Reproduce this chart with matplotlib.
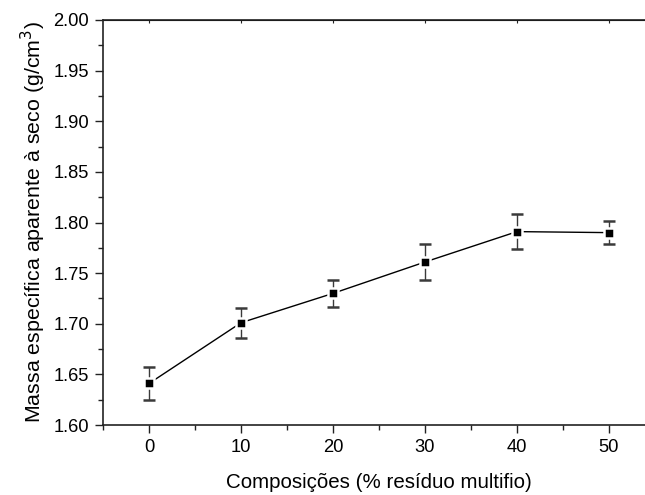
import matplotlib
matplotlib.use("Agg")
import matplotlib.pyplot as plt
from matplotlib.ticker import MultipleLocator, FormatStrFormatter

plt.rcParams['font.family'] = ['Liberation Sans', 'DejaVu Sans']

composicoes = [0, 10, 20, 30, 40, 50]
massa = [1.641, 1.701, 1.730, 1.761, 1.791, 1.790]
erro = [0.016, 0.015, 0.013, 0.018, 0.017, 0.011]

W, H = 645, 495
fig = plt.figure(figsize=(W/100, H/100), dpi=100)
# axes: left spine at x=103 (x=-5), 9.2 px per unit, top y=20, bottom y=425
ax = fig.add_axes([103/W, (H-425)/H, 552/W, 405/H])

ax.errorbar(composicoes, massa, yerr=erro, fmt='-', color='black', lw=1.0,
            marker='s', markersize=7, mfc='black', mec='white', mew=1.8,
            ecolor='#3a3a3a', elinewidth=1.0, capsize=4.5, capthick=1.0, zorder=3)

ax.set_xlim(-5, 55)
ax.set_ylim(1.60, 2.00)
ax.xaxis.set_major_locator(MultipleLocator(10))
ax.xaxis.set_minor_locator(MultipleLocator(5))
ax.yaxis.set_major_locator(MultipleLocator(0.05))
ax.yaxis.set_minor_locator(MultipleLocator(0.025))
ax.yaxis.set_major_formatter(FormatStrFormatter('%.2f'))

ax.tick_params(axis='both', which='major', length=6, width=1, labelsize=13.2,
               direction='out', pad=4, colors='#222222', labelcolor='black')
ax.tick_params(axis='both', which='minor', length=3.5, width=1, direction='out',
               colors='#222222')
ax.secondary_xaxis('top').tick_params(which='both', direction='in', length=2.5,
                                      labeltop=False, colors='#222222')
for s in ax.spines.values():
    s.set_linewidth(1.2)
    s.set_color('#222222')
ax.spines['right'].set_visible(False)

ax.set_xlabel('Composições (% resíduo multifio)', fontsize=14.8, labelpad=12)
ax.set_ylabel('Massa específica aparente à seco (g/cm$^3$)', fontsize=15.4, labelpad=4)

fig.savefig('out.png', dpi=100)
